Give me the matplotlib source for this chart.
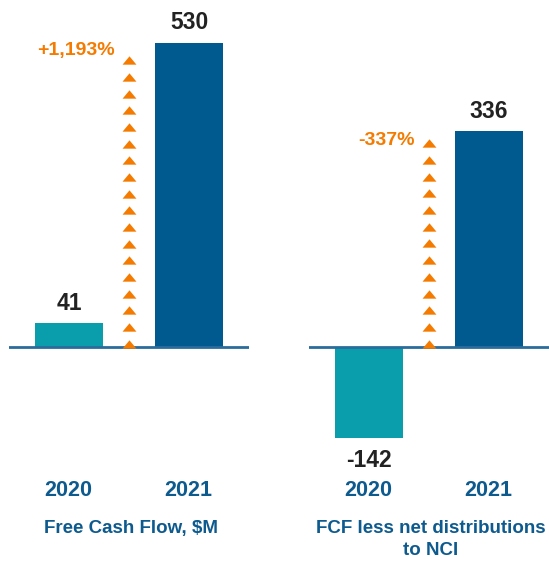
import matplotlib.pyplot as plt
from matplotlib.path import Path
import numpy as np

years = ["2020", "2021"]
fcf = [41, 530]
fcf_nci = [-142, 336]
changes = ["+1,193%", "-337%"]
titles = ["Free Cash Flow, $M", "FCF less net distributions\nto NCI"]

teal = "#0a9dab"
navy = "#005a8f"
orange = "#f47b00"
label_blue = "#0d5a8e"
dark = "#222222"

plt.rcParams['font.family'] = ['Liberation Sans', 'DejaVu Sans']

fig = plt.figure(figsize=(5.49, 5.63), dpi=100)
W, H = 549, 563

# axes placement in pixels: left, width ; ylim chosen so baseline sits at y=347px
panels = [
    dict(vals=fcf, left=9, ylim=(-376, 604), step=29, change=changes[0], title=titles[0], lift=7),
    dict(vals=fcf_nci, left=309, ylim=(-336, 540), step=26, change=changes[1], title=titles[1], lift=2),
]

# flat solid triangle marker
tri = Path([(-1, -0.6), (1, -0.6), (0, 0.6), (0, 0)],
           [Path.MOVETO, Path.LINETO, Path.LINETO, Path.CLOSEPOLY])

for p in panels:
    ax = fig.add_axes([p["left"] / W, 0, 240 / W, 1])
    ax.set_xlim(-0.5, 1.5)
    ax.set_ylim(*p["ylim"])
    ax.axis("off")
    vals = p["vals"]
    ax.bar([0, 1], vals, width=0.56, color=[teal, navy])
    ax.axhline(0, color="#2a6c9c", lw=2, zorder=3)

    # dotted arrow of triangles from baseline up toward the 2021 value
    ys = np.arange(p["step"] * 0.2, vals[1] * 0.96, p["step"])
    ax.plot(np.full(len(ys), 0.5), ys, linestyle="none", marker=tri,
            markersize=10, markeredgewidth=0, color=orange, zorder=4)
    ax.annotate(p["change"], (0.38, ys[-1]), xytext=(0, p["lift"]), textcoords="offset points",
                ha="right", va="center", color=orange, fontsize=14, fontweight="bold")

    for i, v in enumerate(vals):
        if v >= 0:
            ax.annotate(str(v), (i, v), xytext=(0, 6), textcoords="offset points",
                        ha="center", va="bottom", fontsize=16.5, fontweight="bold", color=dark)
        else:
            ax.annotate(str(v), (i, v), xytext=(0, -8), textcoords="offset points",
                        ha="center", va="top", fontsize=16.5, fontweight="bold", color=dark)

    cx = p["left"] + 122
    for i, y in enumerate(years):
        fig.text((p["left"] + 59.5 + 120 * i) / W, 1 - 490 / H, y, ha="center", va="center",
                 fontsize=15.5, fontweight="bold", color=label_blue)
    fig.text(cx / W, 1 - 520 / H, p["title"], ha="center", va="top", fontsize=13.5,
             fontweight="bold", color=label_blue, linespacing=1.4)

fig.savefig("out.png", dpi=100)
